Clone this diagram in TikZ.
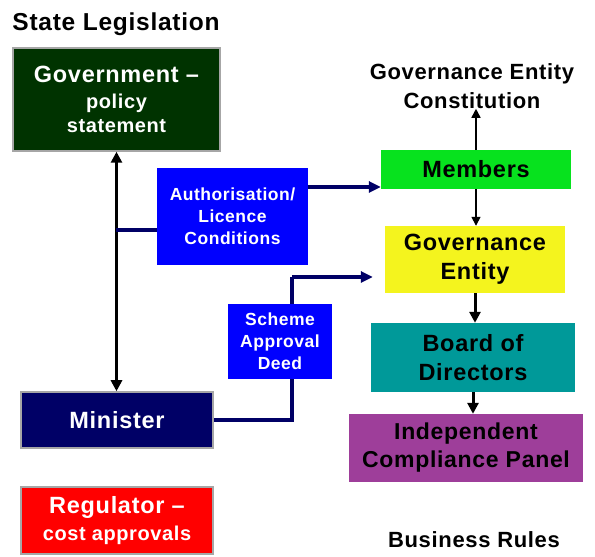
\documentclass[tikz,border=0pt]{standalone}
\usepackage{fontspec}
\setmainfont{Liberation Sans}[LetterSpace=3]
\usetikzlibrary{arrows.meta}

\definecolor{govgreen}{HTML}{003300}
\definecolor{navy}{HTML}{000066}
\definecolor{linkblue}{HTML}{0000FF}
\definecolor{membergreen}{HTML}{07E21E}
\definecolor{entityyellow}{HTML}{F4F41E}
\definecolor{boardteal}{HTML}{009999}
\definecolor{panelpurple}{HTML}{9E3E9A}
\definecolor{regred}{HTML}{FF0000}

\newcommand{\headsize}{\fontsize{23.5}{29}\selectfont}
\newcommand{\subsize}{\fontsize{20}{24}\selectfont}
\newcommand{\linksize}{\fontsize{17.5}{22}\selectfont}

\begin{document}
\begin{tikzpicture}[x=1pt, y=1pt,
  box/.style={inner sep=0pt, align=center, font=\bfseries\headsize},
  framed/.style={box, draw=gray!70, line width=1.5pt},
  linkbox/.style={box, fill=linkblue, text=white, font=\bfseries\linksize},
  thickarrow/.style={line width=3pt, -{Triangle[length=11pt,width=11pt]}},
  thinarrow/.style={line width=1.5pt, -{Triangle[length=9pt,width=9pt]}},
  navyline/.style={draw=navy, line width=4pt},
  navyarrow/.style={navyline, -{Triangle[length=12pt,width=11pt]}}]
\useasboundingbox (0,0) rectangle (595,557);

% left column
\node[box, font=\bfseries\fontsize{24.5}{28}\selectfont] at (116,533)(statelaw) {State Legislation};
\node[framed, fill=govgreen, text=white, minimum width=207pt, minimum height=103pt] at (116.5,457.5)(govt)
  {Government --\\[-3pt]\subsize policy\\[-5pt]\subsize statement};
\node[framed, fill=navy, text=white, minimum width=192pt, minimum height=56pt] at (117,137)(minister)
  {Minister};
\node[framed, fill=regred, text=white, minimum width=192pt, minimum height=67pt] at (117,36.5)(regulator)
  {Regulator --\\[-2pt]\subsize cost approvals};

% right column
\node[box, font=\bfseries\fontsize{22}{29}\selectfont] at (472,471)(constitution) {Governance Entity\\Constitution};
\node[box, fill=membergreen, minimum width=190pt, minimum height=39pt] at (476,387.5)(members)
  {Members};
\node[box, fill=entityyellow, minimum width=180pt, minimum height=67pt] at (475,297.5)(entity)
  {Governance\\Entity};
\node[box, fill=boardteal, minimum width=204pt, minimum height=69pt] at (473,199.5)(board)
  {Board of\\Directors};
\node[box, fill=panelpurple, minimum width=234pt, minimum height=68pt, font=\bfseries\fontsize{23}{28}\selectfont] at (466,109)(panel)
  {Independent\\Compliance Panel};
\node[box, font=\bfseries\fontsize{22}{26}\selectfont] at (474,17)(rules) {Business Rules};

\draw[line width=3pt, {Triangle[length=11pt,width=11pt]}-{Triangle[length=11pt,width=11pt]}] (govt.south) -- (govt.south |- minister.north);
\draw[thinarrow] (members.north) -- (members.north |- constitution.south);
\draw[thinarrow] (members.south) -- (members.south |- entity.north);
\draw[thickarrow] (entity.south) -- (entity.south |- board.north);
\draw[thickarrow] (board.south) -- (board.south |- panel.north);

% licence conditions hang off the minister line
\node[linkbox, minimum width=151pt, minimum height=97pt] at (232.5,340.5)(licence)
  {Authorisation/\\Licence\\Conditions};
\coordinate (licjoin) at (116,327);
\coordinate (licout) at ([yshift=29.5pt]licence.east);
\draw[navyline] (licjoin) -- (licence.west |- licjoin);
\draw[navyarrow] (licout) -- (members.west |- licout);

% deed runs behind its label
\coordinate (deedbend) at (292,280);
\draw[navyline] (minister.east) -| (deedbend);
\draw[navyarrow, shorten >=12pt] (deedbend) -- (entity.west |- deedbend);
\node[linkbox, minimum width=104pt, minimum height=75pt] at (280,215.5)(deed)
  {Scheme\\Approval\\Deed};
\end{tikzpicture}
\end{document}
